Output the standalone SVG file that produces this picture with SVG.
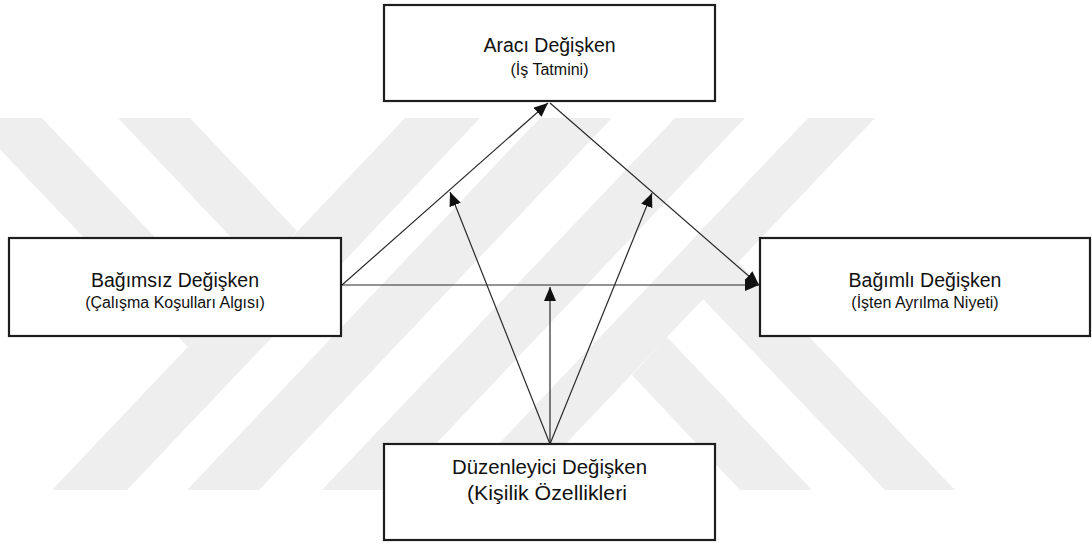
<svg xmlns="http://www.w3.org/2000/svg" width="1092" height="546" viewBox="0 0 1092 546">
  <defs>
    <style>
      .wm { fill: #eeeeee; }
      .box { fill: #ffffff; stroke: #1e1e1e; stroke-width: 2.2; }
      .title { font-family: "Liberation Sans", Arial, sans-serif; font-size: 19.5px; fill: #111111; text-anchor: middle; }
      .sub { font-family: "Liberation Sans", Arial, sans-serif; font-size: 16px; fill: #111111; text-anchor: middle; }
      .big { font-family: "Liberation Sans", Arial, sans-serif; font-size: 21px; fill: #111111; text-anchor: middle; }
      .link { stroke: #2a2a2a; stroke-width: 1.2; fill: none; marker-end: url(#head); }
    </style>
    <marker id="head" markerUnits="userSpaceOnUse" viewBox="0 0 14 12" markerWidth="14" markerHeight="12" refX="14" refY="6" orient="auto">
      <path d="M0,0 L14,6 L0,12 z" fill="#111111"/>
    </marker>
  </defs>

  <rect width="1092" height="546" fill="#ffffff"/>

  <!-- background emblem: parallel diagonal bands -->
  <g id="emblem">
    <polygon class="wm" points="405,118 480,118 127,490 52,490"/>
    <polygon class="wm" points="540,118 612,118 259,490 187,490"/>
    <polygon class="wm" points="675,118 745,118 392,490 322,490"/>
    <polygon class="wm" points="808,118 875,118 522,490 455,490"/>
    <polygon class="wm" points="-30,118 42,118 223,309 188,347"/>
    <polygon class="wm" points="118,118 190,118 297,231 261,269"/>
    <polygon class="wm" points="667,337 812,490 740,490 632,375"/>
    <polygon class="wm" points="738,262 955,490 885,490 703,299"/>
  </g>

  <!-- connectors -->
  <g id="connectors">
    <line class="link" x1="342" y1="285" x2="548" y2="103"/>
    <line class="link" x1="550" y1="103" x2="759" y2="285"/>
    <line class="link" x1="342" y1="285" x2="759" y2="285"/>
    <line class="link" x1="550" y1="444" x2="450" y2="192"/>
    <line class="link" x1="550" y1="444" x2="652" y2="193"/>
    <line class="link" x1="550" y1="444" x2="550" y2="287"/>
  </g>

  <g id="node-araci">
    <rect class="box" x="384" y="5" width="331" height="96"/>
    <text class="title" x="549.5" y="52">Aracı Değişken</text>
    <text class="sub" x="549.5" y="75">(İş Tatmini)</text>
  </g>

  <g id="node-bagimsiz">
    <rect class="box" x="9" y="238" width="332" height="98"/>
    <text class="title" x="175" y="287">Bağımsız Değişken</text>
    <text class="sub" x="175" y="308">(Çalışma Koşulları Algısı)</text>
  </g>

  <g id="node-bagimli">
    <rect class="box" x="760" y="238" width="330" height="98"/>
    <text class="title" x="925" y="287">Bağımlı Değişken</text>
    <text class="sub" x="925" y="308">(İşten Ayrılma Niyeti)</text>
  </g>

  <g id="node-duzenleyici">
    <rect class="box" x="384" y="444" width="331" height="96"/>
    <text class="big" x="549.5" y="474" textLength="195" lengthAdjust="spacingAndGlyphs">Düzenleyici Değişken</text>
    <text class="big" x="547" y="500" textLength="160" lengthAdjust="spacingAndGlyphs">(Kişilik Özellikleri</text>
  </g>
</svg>
